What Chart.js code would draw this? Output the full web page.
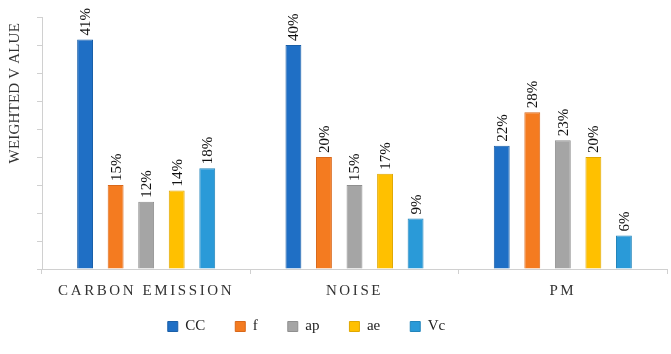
<!DOCTYPE html>
<html>
<head>
<meta charset="utf-8">
<script src="https://cdn.jsdelivr.net/npm/chart.js@4.4.0/dist/chart.umd.min.js"></script>
<style>
  html, body { margin: 0; padding: 0; background: #fff; }
  #wrap { width: 671px; height: 354px; position: relative; }
</style>
</head>
<body>
<div id="wrap"><canvas id="c"></canvas></div>
<script>
// data
const categories = ['CARBON EMISSION', 'NOISE', 'PM'];
const seriesNames = ['CC', 'f', 'ap', 'ae', 'Vc'];
const ccValues = [41, 40, 22];
const fValues = [15, 20, 28];
const apValues = [12, 15, 23];
const aeValues = [14, 17, 20];
const vcValues = [18, 9, 6];

const fills = ['#1f6fc5', '#f47b20', '#a5a5a5', '#ffc000', '#2a9ad8'];
const edges = ['#1a5fa8', '#d9681a', '#8f8f8f', '#e0a800', '#2385bb'];
const serif = "'Liberation Serif', 'Times New Roman', serif";

// wrap one scale method with canvas letterSpacing / small offset
function tweak(scale, name, sp, dy) {
    const orig = scale[name];
    scale[name] = function (...args) {
        const ctx = this.ctx;
        ctx.save();
        ctx.letterSpacing = sp;
        ctx.translate(0, dy);
        orig.apply(this, args);
        ctx.restore();
    };
}

const spacingPlugin = {
    id: 'spacing',
    beforeDraw(chart) {
        const { x, y } = chart.scales;
        if (!x._tweaked) { tweak(x, 'drawLabels', '2.6px', 1); x._tweaked = true; }
        if (!y._tweaked) { tweak(y, 'drawTitle', '0.2px', 6); y._tweaked = true; }
    }
};

// rotated percentage labels above bars
const barLabels = {
    id: 'barLabels',
    afterDatasetsDraw(chart) {
        const ctx = chart.ctx;
        ctx.save();
        ctx.font = '15px ' + serif;
        ctx.fillStyle = '#111';
        ctx.textAlign = 'left';
        ctx.textBaseline = 'middle';
        chart.data.datasets.forEach((ds, i) => {
            chart.getDatasetMeta(i).data.forEach((bar, j) => {
                ctx.save();
                ctx.translate(bar.x + 1, bar.y - 4);
                ctx.rotate(-Math.PI / 2);
                ctx.fillText(ds.data[j] + '%', 0, 0);
                ctx.restore();
            });
        });
        ctx.restore();
    }
};

// fixed legend height, then nudge it into place
const legendFix = {
    id: 'legendFix',
    beforeLayout(chart) {
        const lg = chart.legend;
        if (lg && !lg._fixed) {
            const fit = lg.fit;
            lg.fit = function () {
                fit.call(this);
                this.height = 39;
            };
            lg._fixed = true;
        }
    },
    afterLayout(chart) {
        chart.legend.left -= 27;
        chart.legend.right -= 27;
        chart.legend.top -= 20;
    }
};

const allValues = [ccValues, fValues, apValues, aeValues, vcValues];

new Chart(document.getElementById('c'), {
    type: 'bar',
    data: {
        labels: categories,
        datasets: seriesNames.map((name, i) => ({
            label: name,
            data: allValues[i],
            backgroundColor: fills[i],
            borderColor: edges[i],
            borderWidth: 1,
            categoryPercentage: 0.733,
            barPercentage: 0.52
        }))
    },
    options: {
        responsive: true,
        maintainAspectRatio: false,
        animation: false,
        layout: { padding: { top: 17, right: 4, left: 0, bottom: 6 } },
        plugins: {
            legend: {
                position: 'bottom',
                labels: {
                    boxWidth: 10,
                    boxHeight: 10,
                    padding: 30,
                    color: '#222',
                    font: { family: serif, size: 15 }
                }
            },
            tooltip: { enabled: false }
        },
        scales: {
            x: {
                grid: { drawOnChartArea: false, drawTicks: true, tickLength: 5, color: '#d0d0d0' },
                border: { color: '#d0d0d0' },
                ticks: { color: '#333', padding: 7, font: { family: serif, size: 15 } },
                afterFit(s) { s.height = 40; }
            },
            y: {
                min: 0,
                max: 45,
                ticks: { display: false, stepSize: 5 },
                grid: { drawOnChartArea: false, drawTicks: true, tickLength: 5, color: '#d0d0d0' },
                border: { color: '#d0d0d0' },
                title: {
                    display: true,
                    text: 'WEIGHTED V ALUE',
                    align: 'end',
                    color: '#333',
                    padding: { top: 6, bottom: 0 },
                    font: { family: serif, size: 15 }
                },
                afterFit(s) { s.width = 42; }
            }
        }
    },
    plugins: [spacingPlugin, barLabels, legendFix]
});
</script>
</body>
</html>
